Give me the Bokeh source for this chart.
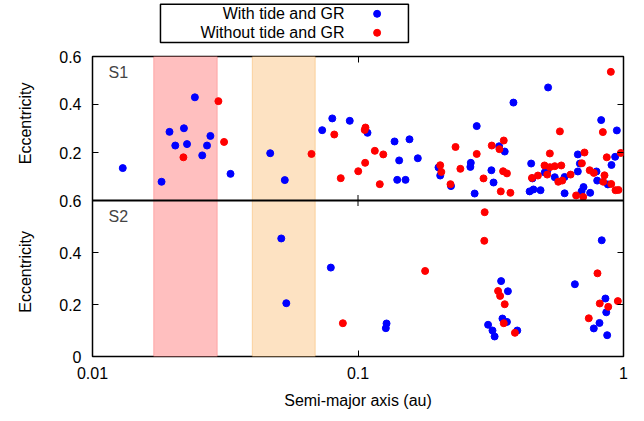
import numpy as np
from bokeh.plotting import figure
from bokeh.models import Range1d, FixedTicker, LinearAxis, LogAxis, BoxAnnotation, Span, Label
from bokeh.layouts import column
from bokeh.embed import file_html
from bokeh.resources import INLINE
from bokeh.core.properties import value

FONT = "Liberation Sans"

# ---- data: semi-major axis (au) and eccentricity ----
# S1, with tide and GR
s1_tide_a = [0.0130, 0.0182, 0.0195, 0.0205, 0.0221, 0.0227, 0.0243, 0.0259, 0.0270, 0.0278,
             0.0331, 0.0467, 0.0530, 0.0733, 0.0800, 0.0931, 0.1086, 0.1373, 0.1429, 0.1405,
             0.1563, 0.168, 0.151, 0.201, 0.204, 0.224, 0.266, 0.265, 0.280, 0.275,
             0.318, 0.324, 0.340, 0.357, 0.385, 0.520, 0.449, 0.454, 0.443, 0.458,
             0.487, 0.505, 0.516, 0.551, 0.600, 0.600, 0.673, 0.685, 0.673, 0.707,
             0.695, 0.749, 0.791, 0.796, 0.824, 0.873, 0.901, 0.930, 0.944]
s1_tide_e = [0.135, 0.078, 0.286, 0.229, 0.301, 0.235, 0.430, 0.188, 0.229, 0.269,
             0.111, 0.197, 0.085, 0.293, 0.342, 0.332, 0.282, 0.246, 0.167, 0.086,
             0.255, 0.176, 0.086, 0.138, 0.104, 0.060, 0.157, 0.140, 0.310, 0.029,
             0.126, 0.075, 0.226, 0.204, 0.408, 0.471, 0.154, 0.092, 0.038, 0.046,
             0.043, 0.117, 0.122, 0.097, 0.098, 0.030, 0.192, 0.154, 0.121, 0.056,
             0.038, 0.032, 0.121, 0.083, 0.335, 0.067, 0.148, 0.182, 0.292]

# S1, without tide and GR
s1_notide_a = [0.0220, 0.0298, 0.0313, 0.0668, 0.0814, 0.1067, 0.1060, 0.0861, 0.1002, 0.1064,
               0.1157, 0.1245, 0.1208, 0.204, 0.206, 0.223, 0.233, 0.243, 0.280, 0.297,
               0.319, 0.341, 0.354, 0.352, 0.364, 0.345, 0.375, 0.896, 0.576, 0.528,
               0.504, 0.528, 0.551, 0.583, 0.452, 0.476, 0.516, 0.568, 0.588, 0.632,
               0.713, 0.697, 0.746, 0.773, 0.663, 0.705, 0.848, 0.839, 0.899, 0.836,
               0.865, 0.977, 0.933, 0.957]
s1_notide_e = [0.180, 0.414, 0.244, 0.194, 0.275, 0.304, 0.294, 0.093, 0.122, 0.157,
               0.207, 0.192, 0.068, 0.147, 0.119, 0.068, 0.223, 0.132, 0.194, 0.092,
               0.229, 0.214, 0.250, 0.122, 0.113, 0.038, 0.032, 0.536, 0.288, 0.196,
               0.146, 0.139, 0.143, 0.146, 0.094, 0.104, 0.108, 0.078, 0.083, 0.108,
               0.200, 0.155, 0.126, 0.115, 0.021, 0.015, 0.105, 0.078, 0.069, 0.285,
               0.180, 0.198, 0.043, 0.044]

# S2, with tide and GR
s2_tide_a = [0.0514, 0.0537, 0.0790, 0.1281, 0.1273, 0.346, 0.367, 0.350, 0.364, 0.309,
             0.321, 0.327, 0.398, 0.656, 0.828, 0.855, 0.861, 0.812, 0.773, 0.868]
s2_tide_e = [0.454, 0.205, 0.342, 0.127, 0.109, 0.290, 0.251, 0.146, 0.133, 0.122,
             0.100, 0.077, 0.100, 0.278, 0.447, 0.223, 0.170, 0.129, 0.108, 0.082]

# S2, without tide and GR
s2_notide_a = [0.0877, 0.179, 0.300, 0.299, 0.337, 0.343, 0.357, 0.354, 0.390, 0.798,
               0.814, 0.876, 0.952, 0.740]
s2_notide_e = [0.128, 0.329, 0.555, 0.445, 0.252, 0.233, 0.201, 0.128, 0.091, 0.320,
               0.204, 0.191, 0.213, 0.147]

# shaded zones in semi-major axis (au)
band_left = [0.017, 0.040]
band_right = [0.0295, 0.069]
band_fill = ["#ffbfbf", "#fde2c2"]
band_line = ["#ff5a5a", "#f39a2c"]

series_labels = ["With tide and GR", "Without tide and GR"]
series_colors = ["#0000ff", "#ff0000"]
x_ticks = [0.01, 0.1, 1.0]
x_tick_labels = ["0.01", "0.1", "1"]
e_ticks_lower = [0.0, 0.2, 0.4, 0.6]
e_ticks_upper = [0.2, 0.4, 0.6]
y_title = "Eccentricity"

# ---- panel geometry: both panels share one frame, split at e = 0.6 of S2 ----
BORDER_L, BORDER_R = 92, 21
FRAME_H = 300
LOWER_H = 156
UPPER_H = FRAME_H - LOWER_H
E_MAX = 0.6
lower_end = E_MAX * FRAME_H / LOWER_H
upper_start = -E_MAX * LOWER_H / UPPER_H


def upper_to_lower(e):
    return round(E_MAX + e * (lower_end - E_MAX) / E_MAX, 6)


p = figure(width=644, height=374, x_axis_type="log",
           x_range=Range1d(0.01, 1.0), y_range=Range1d(0, lower_end),
           min_border_left=BORDER_L, min_border_right=BORDER_R,
           min_border_top=9, min_border_bottom=65,
           output_backend="svg", toolbar_location=None)
p.extra_y_ranges = {"upper": Range1d(upper_start, E_MAX)}
p.grid.visible = False
p.outline_line_color = "black"
p.outline_line_width = 1.5
p.background_fill_color = "white"
p.border_fill_color = "white"

for l, r, fc, lc in zip(band_left, band_right, band_fill, band_line):
    p.add_layout(BoxAnnotation(left=l, right=r, fill_color=fc, fill_alpha=1.0,
                               line_color=lc, line_width=1.2, level="underlay"))

# S1 in the upper panel, S2 in the lower one
p.scatter(s1_tide_a, s1_tide_e, size=7, color=series_colors[0], y_range_name="upper")
p.scatter(s1_notide_a, s1_notide_e, size=7, color=series_colors[1], y_range_name="upper")
p.scatter(s2_tide_a, s2_tide_e, size=7, color=series_colors[0])
p.scatter(s2_notide_a, s2_notide_e, size=7, color=series_colors[1])

# divider between the panels and its x ticks
p.add_layout(Span(location=E_MAX, dimension="width", line_color="black", line_width=2))
p.scatter(x_ticks[1:-1], [E_MAX] * len(x_ticks[1:-1]), marker="dash", angle=np.pi / 2,
          size=11, line_color="black", line_width=1)

# y axis: one axis carrying both panels' ticks
y_ticks = [upper_to_lower(e) for e in e_ticks_upper] + list(e_ticks_lower)
y_labels = {upper_to_lower(e): f"{e:g}" for e in e_ticks_upper}
y_labels.update({e: f"{e:g}" for e in e_ticks_lower})


def style_axis(ax):
    ax.axis_line_color = None
    ax.major_tick_in = 6
    ax.major_tick_out = 0
    ax.minor_tick_in = 0
    ax.minor_tick_out = 0
    ax.major_tick_line_color = "black"
    ax.major_label_text_font = FONT
    ax.major_label_text_font_size = "16px"
    ax.major_label_text_color = "black"
    ax.axis_label_text_font = FONT
    ax.axis_label_text_font_size = "16px"
    ax.axis_label_text_font_style = "normal"
    ax.axis_label_text_color = "black"


yl = p.yaxis[0]
yl.ticker = FixedTicker(ticks=y_ticks)
yl.major_label_overrides = y_labels
style_axis(yl)
yl.major_label_standoff = 11
# one title per panel: the lower panel's title first (rotated text reads upwards),
# separated by non-breaking spaces so each sits beside its own panel
NBSP = "\u00a0"
yl.axis_label = NBSP * 4 + y_title + NBSP * 15 + y_title
yl.axis_label_standoff = 22

# mirrored tick marks on the right and top edges, without labels
yr = LinearAxis(ticker=FixedTicker(ticks=y_ticks))
style_axis(yr)
yr.major_label_overrides = {t: "" for t in y_ticks}
yr.major_label_standoff = 0
p.add_layout(yr, "right")

xb = p.xaxis[0]
xb.ticker = FixedTicker(ticks=x_ticks)
xb.major_label_overrides = dict(zip(x_ticks, x_tick_labels))
style_axis(xb)
xb.major_label_standoff = 10
xb.axis_label = "Semi-major axis (au)"
xb.axis_label_standoff = 10

xt = LogAxis(ticker=FixedTicker(ticks=x_ticks))
style_axis(xt)
xt.major_label_overrides = {t: "" for t in x_ticks}
xt.major_label_standoff = 0
p.add_layout(xt, "above")

# panel names
p.add_layout(Label(x=16, y=0.533, x_units="screen", y_range_name="upper", text="S1",
                   text_font=FONT, text_font_size="16px", text_baseline="middle"))
p.add_layout(Label(x=16, y=0.538, x_units="screen", text="S2",
                   text_font=FONT, text_font_size="16px", text_baseline="middle"))

# legend box above the panels (coordinates are fractions of the strip)
leg = figure(width=644, height=47, x_range=Range1d(0, 1), y_range=Range1d(0, 1),
             min_border_left=BORDER_L, min_border_right=BORDER_R,
             min_border_top=0, min_border_bottom=0,
             x_axis_location=None, y_axis_location=None,
             output_backend="svg", toolbar_location=None)
leg.grid.visible = False
leg.outline_line_color = None
leg.border_fill_color = "white"
leg.quad(left=[0.128], right=[0.595], bottom=[0.106], top=[0.921],
         fill_color=None, line_color="black", line_width=1.5)
row_y = [0.717, 0.313]
leg.text(x=[0.4746, 0.4746], y=row_y, text=series_labels, text_align="right",
         text_baseline="middle", text_font=value(FONT), text_font_size="16px", text_color="black")
leg.scatter(x=[0.536, 0.536], y=row_y, size=7, color=series_colors)

layout = column(leg, p, spacing=0)
open("out.html", "w").write(file_html(layout, INLINE))
